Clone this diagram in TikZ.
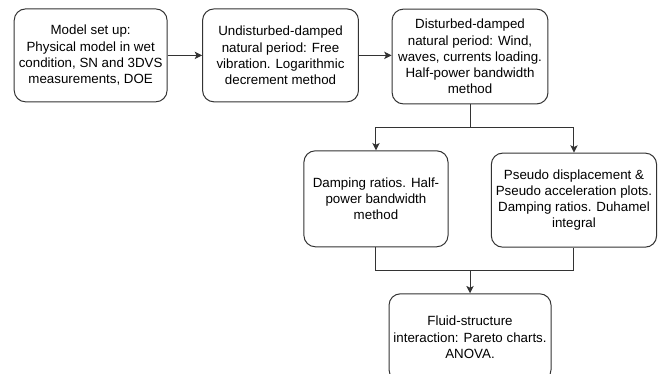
\documentclass[tikz,border=0pt]{standalone}
\usepackage{fontspec}
\setmainfont{Liberation Sans}
\usepackage{xcolor}
\usetikzlibrary{arrows.meta, positioning}

\begin{document}
\begin{tikzpicture}[
    box/.style={rectangle, draw=black!80, line width=0.75pt, align=center, rounded corners=0.3cm, minimum height=2.45cm, font=\fontsize{10}{12.2}\selectfont},
    line/.style={draw=black!80, line width=0.75pt},
    arrow/.style={line, -{Stealth[length=5.5pt, width=5.5pt, inset=1.3pt]}}
]
\clip (-2.39,1.46) rectangle (15.09,-8.40);

% Top row
\node[box, minimum width=4.03cm] (setup) {Model set up:\\Physical model in wet\\condition, SN and 3DVS\\measurements, DOE};
\node[box, minimum width=4.11cm, right=0.91cm of setup] (free) {Undisturbed-damped\\natural period: Free\\vibration. Logarithmic\\decrement method};
\node[box, minimum width=4.11cm, minimum height=2.5cm, right=0.86cm of free, yshift=-0.03cm] (disturbed) {Disturbed-damped\\natural period: Wind,\\waves, currents loading.\\Half-power bandwidth\\method};

% Middle row
\node[box, minimum width=3.80cm, minimum height=2.53cm, below=1.21cm of disturbed, xshift=-2.48cm] (damping) {Damping ratios. Half-\\power bandwidth\\method};
\node[box, minimum width=4.32cm, minimum height=2.48cm, below=1.27cm of disturbed, xshift=2.74cm] (pseudo) {Pseudo displacement \&\\Pseudo acceleration plots.\\Damping ratios. Duhamel\\integral};

% Bottom row
\node[box, minimum width=4.09cm, minimum height=2.3cm, below=4.98cm of disturbed] (fsi) {Fluid-structure\\interaction: Pareto charts.\\ANOVA.};

% Junctions
\coordinate[below=0.61cm of disturbed.south] (split);
\coordinate[above=0.61cm of fsi.north] (merge);

% Arrows
\draw[arrow] (setup) -- (free);
\draw[arrow] (free) -- (free -| disturbed.west);
\draw[line] (disturbed.south) -- (split);
\draw[arrow] (split) -| (damping.north);
\draw[arrow] (split) -| (pseudo.north);
\draw[line] (damping.south) |- (merge) -| (pseudo.south);
\draw[arrow] (merge) -- (fsi.north);

\end{tikzpicture}
\end{document}
